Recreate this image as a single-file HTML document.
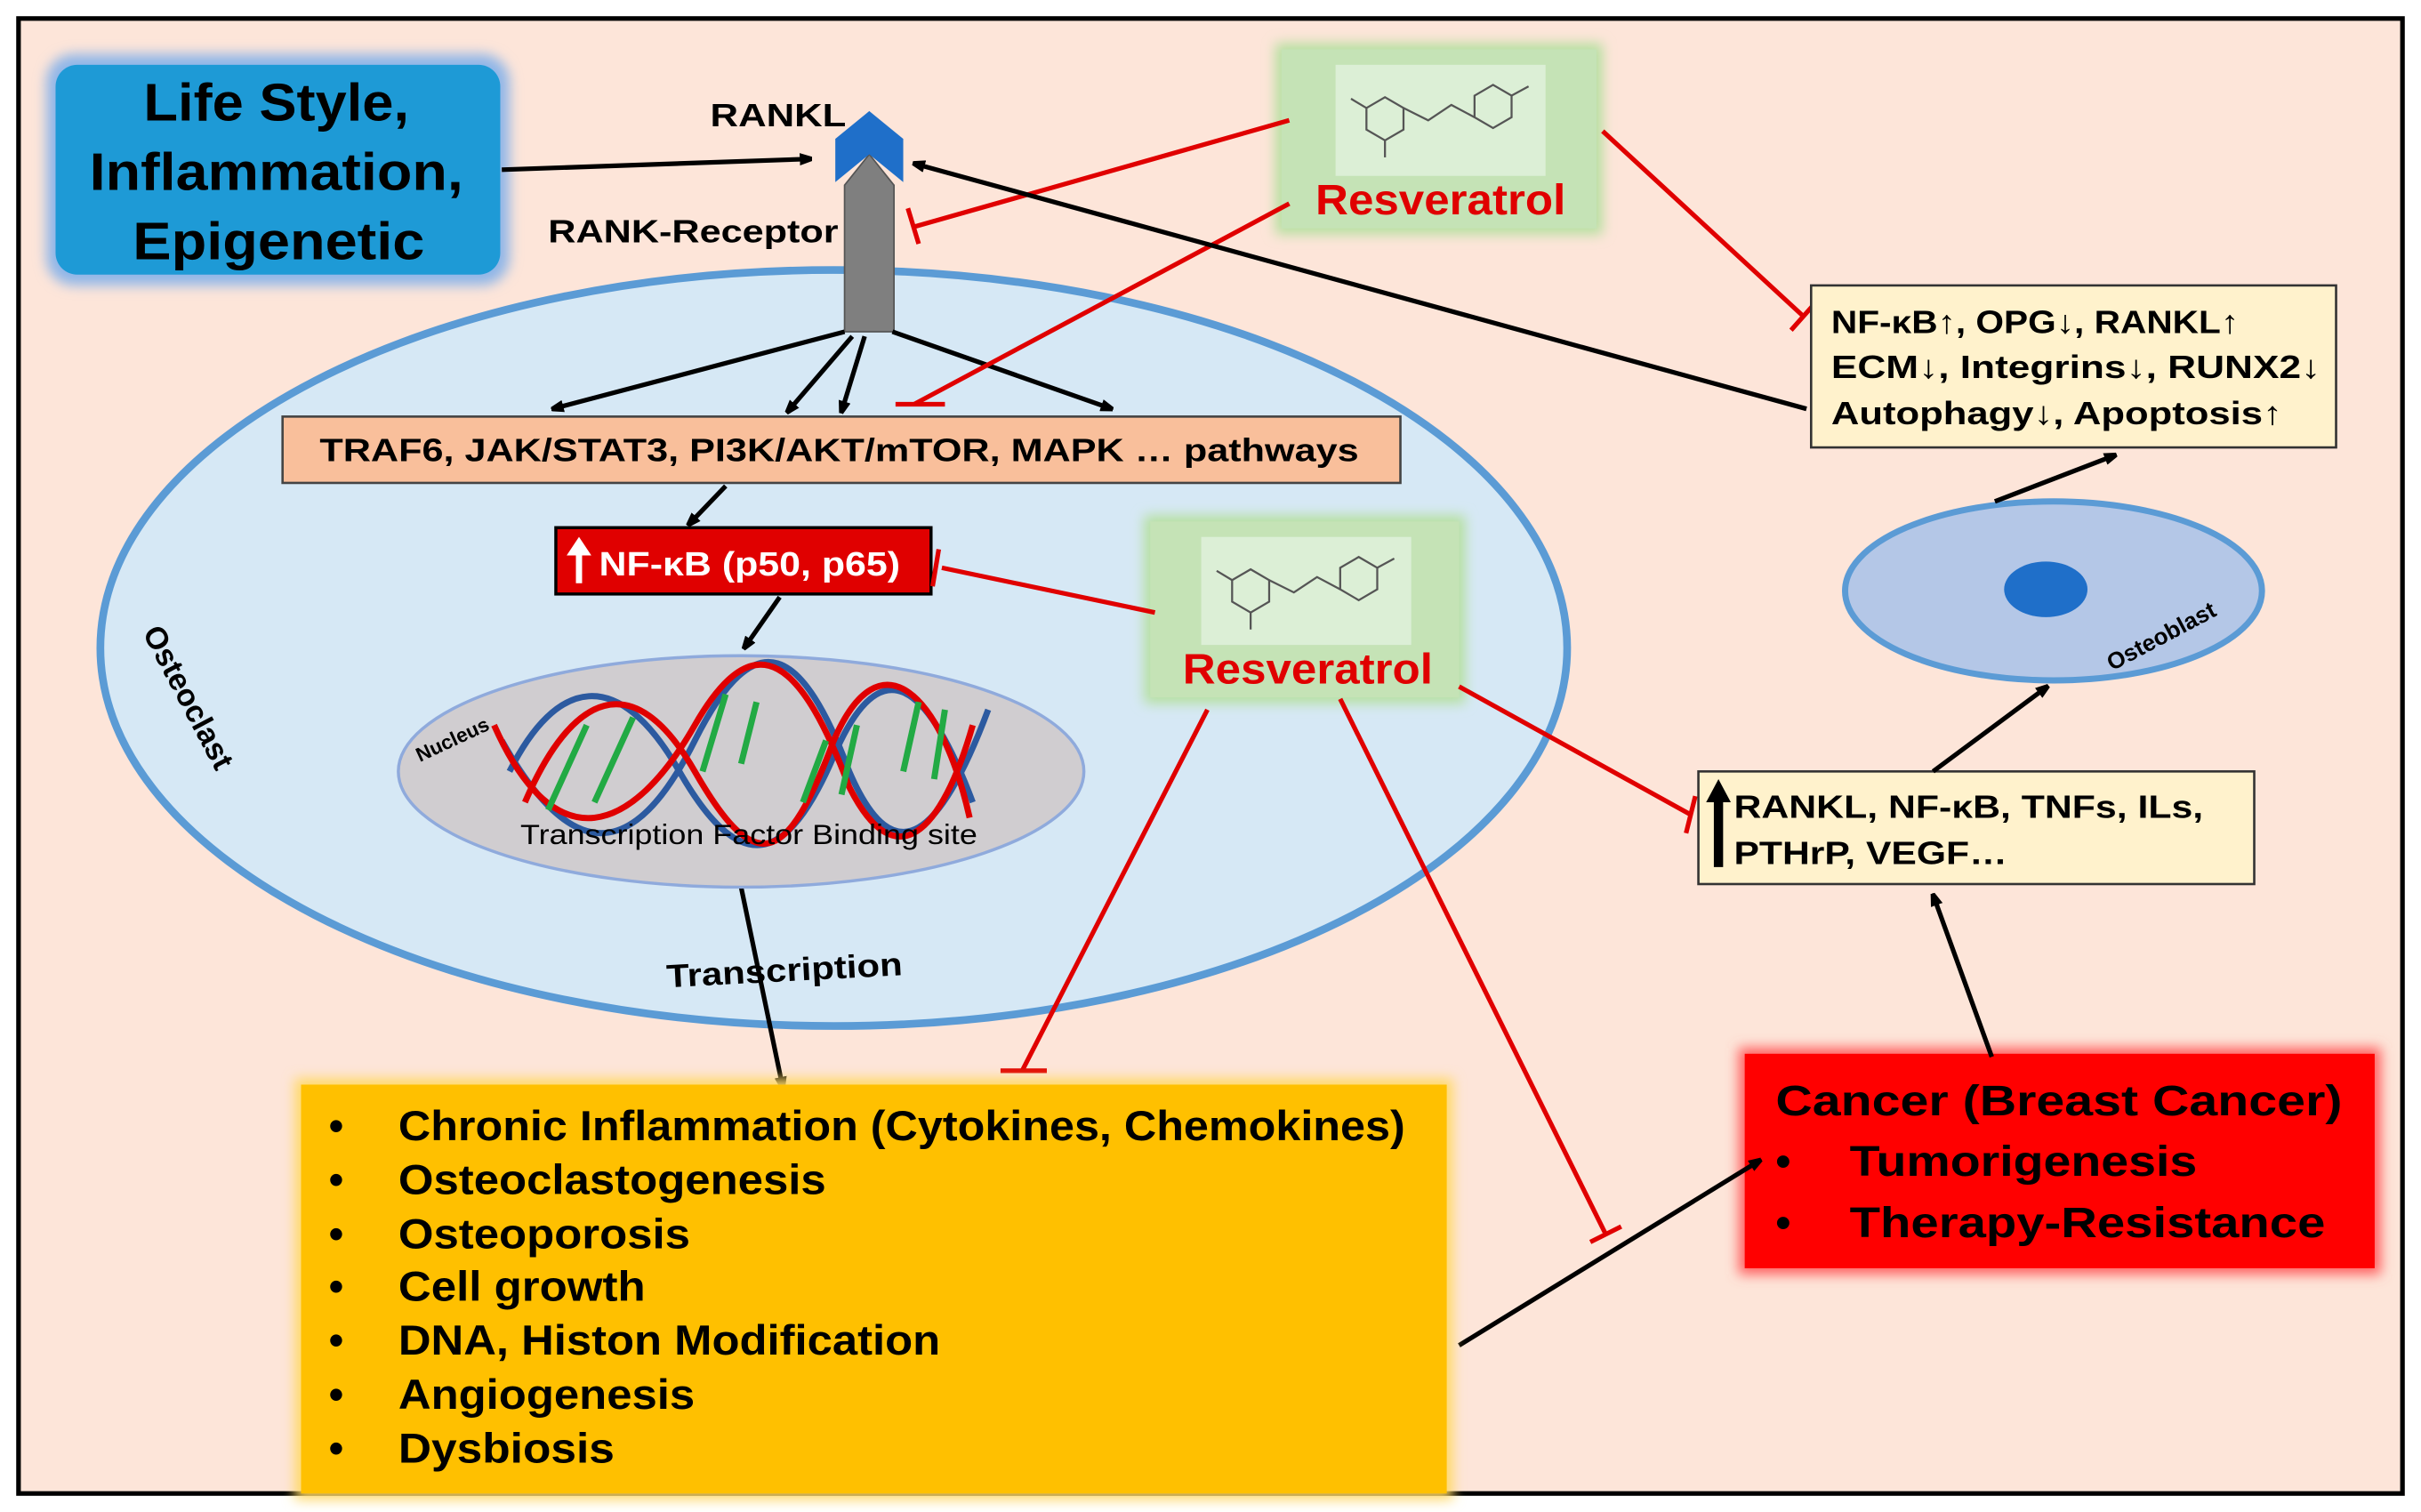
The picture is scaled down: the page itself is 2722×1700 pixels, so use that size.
<!DOCTYPE html>
<html><head><meta charset="utf-8"><style>
html,body{margin:0;padding:0;background:#fff;}
svg{display:block;}
text{font-family:"Liberation Sans",Arial,sans-serif;font-weight:bold;}
</style></head><body>
<svg width="2722" height="1700" viewBox="0 0 1568 980" preserveAspectRatio="none" xmlns="http://www.w3.org/2000/svg">
<defs>
<marker id="ab" markerWidth="8" markerHeight="8" refX="7" refY="4" orient="auto" markerUnits="userSpaceOnUse"><path d="M0,0 L12,4 L0,8 z" fill="#000"/></marker>
<filter id="glow" x="-20%" y="-20%" width="140%" height="140%"><feGaussianBlur stdDeviation="4"/></filter>
</defs>
<rect x="0" y="0" width="1568" height="980" fill="#fff"/>
<rect x="12" y="12" width="1544" height="956" fill="#fde5d9" stroke="#000" stroke-width="3"/>

<!-- Life style -->
<rect x="30" y="35" width="300" height="150" rx="18" fill="#8fb6e8" filter="url(#glow)"/>
<rect x="36" y="42" width="288" height="136" rx="14" fill="#1e9ad6"/>
<text x="93" y="78" font-size="34" textLength="172" lengthAdjust="spacingAndGlyphs">Life Style,</text>
<text x="58" y="123" font-size="34" textLength="242" lengthAdjust="spacingAndGlyphs">Inflammation,</text>
<text x="86" y="168" font-size="34" textLength="189" lengthAdjust="spacingAndGlyphs">Epigenetic</text>

<!-- Osteoclast ellipse -->
<ellipse cx="540" cy="420" rx="475" ry="245" fill="#d6e8f5" stroke="#5b9bd5" stroke-width="5"/>
<text x="0" y="0" font-size="20" transform="translate(92,410) rotate(62)">Osteoclast</text>

<!-- RANKL & receptor -->
<text x="460" y="82" font-size="21" textLength="88" lengthAdjust="spacingAndGlyphs">RANKL</text>
<line x1="325" y1="110" x2="525" y2="103" stroke="#000" stroke-width="3" marker-end="url(#ab)"/>
<text x="355" y="157" font-size="21" textLength="188" lengthAdjust="spacingAndGlyphs">RANK-Receptor</text>
<path d="M547,215 L547,120 L563,100 L579,120 L579,215 Z" fill="#7f7f7f" stroke="#555" stroke-width="1"/>
<path d="M541,118 L541,90 L563,72 L585,90 L585,118 L563,100 Z" fill="#1f6fc9"/>

<!-- arrows from receptor -->
<g stroke="#000" stroke-width="3" marker-end="url(#ab)">
<line x1="547" y1="215" x2="358" y2="265"/>
<line x1="552" y1="218" x2="510" y2="267"/>
<line x1="560" y1="218" x2="545" y2="267"/>
<line x1="578" y1="215" x2="720" y2="265"/>
<line x1="470" y1="315" x2="446" y2="340"/>
<line x1="505" y1="387" x2="482" y2="420"/>
<line x1="480" y1="575" x2="507" y2="705"/>
</g>

<!-- pathways -->
<rect x="183" y="270" width="724" height="43" fill="#f9bf9b" stroke="#444" stroke-width="1.5"/>
<text x="207" y="299" font-size="21" textLength="673" lengthAdjust="spacingAndGlyphs">TRAF6, JAK/STAT3, PI3K/AKT/mTOR, MAPK … pathways</text>

<!-- NF-kB -->
<rect x="360" y="342" width="243" height="43" fill="#e00000" stroke="#000" stroke-width="2"/>
<path d="M373,378 L373,360 L367,360 L375,348 L383,360 L377,360 L377,378 Z" fill="#fff"/>
<text x="388" y="373" font-size="22" fill="#fff" textLength="195" lengthAdjust="spacingAndGlyphs">NF-κB (p50, p65)</text>

<!-- Nucleus -->
<ellipse cx="480" cy="500" rx="222" ry="75" fill="#d0cdd0" stroke="#8faadc" stroke-width="2"/>
<text x="0" y="0" font-size="13" transform="translate(272,494) rotate(-25)">Nucleus</text>
<g fill="none" stroke-width="4">
<path d="M325,480 C370,560 410,560 450,480 C490,400 520,420 550,500 C580,570 610,540 640,460" stroke="#2c5aa0"/>
<path d="M330,500 C360,440 400,430 440,500 C480,570 510,560 540,490 C570,420 600,440 630,520" stroke="#2c5aa0"/>
<path d="M320,470 C360,560 410,540 450,470 C490,400 520,430 550,510 C580,570 610,540 630,470" stroke="#e00000"/>
<path d="M340,520 C370,450 410,430 450,500 C490,570 510,560 540,480 C570,410 610,450 628,530" stroke="#e00000"/>
</g>
<g stroke="#22aa44" stroke-width="4">
<line x1="355" y1="525" x2="380" y2="470"/><line x1="385" y1="520" x2="410" y2="465"/>
<line x1="455" y1="500" x2="470" y2="450"/><line x1="480" y1="495" x2="490" y2="455"/>
<line x1="520" y1="520" x2="535" y2="480"/><line x1="545" y1="515" x2="555" y2="470"/>
<line x1="585" y1="500" x2="595" y2="455"/><line x1="605" y1="505" x2="612" y2="460"/>
</g>
<text x="337" y="547" font-size="18" style="font-weight:normal" textLength="296" lengthAdjust="spacingAndGlyphs">Transcription Factor Binding site</text>
<text x="0" y="0" font-size="21" transform="translate(432,640) rotate(-3)" textLength="153" lengthAdjust="spacingAndGlyphs">Transcription</text>

<!-- Resveratrol 1 -->
<rect x="826" y="28" width="212" height="124" fill="#b6e0a0" filter="url(#glow)"/>
<rect x="830" y="32" width="204" height="116" fill="#c5e3b6"/>
<rect x="865" y="42" width="136" height="72" fill="#dcefd6"/>
<g stroke="#555" stroke-width="1.3" fill="none"><polygon points="885,70 897,63 909,70 909,84 897,91 885,84"/><polyline points="909,70 925,78 940,68 955,76"/><polygon points="955,62 967,55 979,62 979,76 967,83 955,76"/><line x1="979" y1="62" x2="990" y2="56"/><line x1="897" y1="91" x2="897" y2="102"/><line x1="885" y1="70" x2="875" y2="64"/></g>
<text x="852" y="139" font-size="28" fill="#e00000" textLength="162" lengthAdjust="spacingAndGlyphs">Resveratrol</text>

<!-- Resveratrol 2 -->
<rect x="741" y="334" width="208" height="122" fill="#b6e0a0" filter="url(#glow)"/>
<rect x="745" y="338" width="200" height="114" fill="#c5e3b6"/>
<rect x="778" y="348" width="136" height="70" fill="#dcefd6"/>
<g stroke="#555" stroke-width="1.3" fill="none"><polygon points="798,376 810,369 822,376 822,390 810,397 798,390"/><polyline points="822,376 838,384 853,374 868,382"/><polygon points="868,368 880,361 892,368 892,382 880,389 868,382"/><line x1="892" y1="368" x2="903" y2="362"/><line x1="810" y1="397" x2="810" y2="408"/><line x1="798" y1="376" x2="788" y2="370"/></g>
<text x="766" y="443" font-size="28" fill="#e00000" textLength="162" lengthAdjust="spacingAndGlyphs">Resveratrol</text>

<!-- red inhibition lines -->
<g stroke="#e00000" stroke-width="3" fill="none">
<line x1="835" y1="78" x2="592" y2="147"/><line x1="588" y1="135" x2="595" y2="158"/>
<line x1="835" y1="132" x2="592" y2="262"/><line x1="580" y1="262" x2="612" y2="262"/>
<line x1="1038" y1="85" x2="1168" y2="205"/><line x1="1160" y1="214" x2="1176" y2="196"/>
<line x1="748" y1="397" x2="610" y2="368"/><line x1="608" y1="356" x2="604" y2="380"/>
<line x1="782" y1="460" x2="662" y2="694"/><line x1="648" y1="694" x2="678" y2="694"/>
<line x1="868" y1="453" x2="1040" y2="800"/><line x1="1030" y1="805" x2="1050" y2="795"/>
<line x1="945" y1="445" x2="1095" y2="528"/><line x1="1098" y1="516" x2="1092" y2="540"/>
</g>

<!-- right box 1 -->
<rect x="1173" y="185" width="340" height="105" fill="#fff2cc" stroke="#333" stroke-width="1.5"/>
<text x="1186" y="216" font-size="21" textLength="264" lengthAdjust="spacingAndGlyphs">NF-κB↑, OPG↓, RANKL↑</text>
<text x="1186" y="245" font-size="21" textLength="317" lengthAdjust="spacingAndGlyphs">ECM↓, Integrins↓, RUNX2↓</text>
<text x="1186" y="275" font-size="21" textLength="292" lengthAdjust="spacingAndGlyphs">Autophagy↓, Apoptosis↑</text>
<line x1="1170" y1="265" x2="592" y2="106" stroke="#000" stroke-width="3" marker-end="url(#ab)"/>

<!-- osteoblast -->
<ellipse cx="1330" cy="383" rx="135" ry="58" fill="#b4c7e7" stroke="#5b9bd5" stroke-width="4"/>
<ellipse cx="1325" cy="382" rx="27" ry="18" fill="#1f6fc9"/>
<text x="0" y="0" font-size="15" transform="translate(1368,435) rotate(-28)">Osteoblast</text>

<!-- right box 2 -->
<rect x="1100" y="500" width="360" height="73" fill="#fff2cc" stroke="#333" stroke-width="1.5"/>
<path d="M1110,562 L1110,520 L1105,520 L1113,505 L1121,520 L1116,520 L1116,562 Z" fill="#000"/>
<text x="1123" y="530" font-size="21" textLength="304" lengthAdjust="spacingAndGlyphs">RANKL, NF-κB, TNFs, ILs,</text>
<text x="1123" y="560" font-size="21" textLength="177" lengthAdjust="spacingAndGlyphs">PTHrP, VEGF…</text>

<!-- cancer -->
<rect x="1126" y="679" width="416" height="147" fill="#ff6060" filter="url(#glow)"/>
<rect x="1130" y="683" width="408" height="139" fill="#ff0000"/>
<text x="1150" y="723" font-size="28" textLength="367" lengthAdjust="spacingAndGlyphs">Cancer (Breast Cancer)</text>
<text x="1150" y="762" font-size="28">•</text><text x="1198" y="762" font-size="28" textLength="225" lengthAdjust="spacingAndGlyphs">Tumorigenesis</text>
<text x="1150" y="802" font-size="28">•</text><text x="1198" y="802" font-size="28" textLength="308" lengthAdjust="spacingAndGlyphs">Therapy-Resistance</text>

<g stroke="#000" stroke-width="3" marker-end="url(#ab)">
<line x1="1292" y1="325" x2="1370" y2="295"/>
<line x1="1252" y1="500" x2="1326" y2="445"/>
<line x1="1290" y1="685" x2="1252" y2="580"/>
<line x1="945" y1="872" x2="1140" y2="752"/>
</g>

<!-- yellow box -->
<rect x="191" y="699" width="750" height="273" fill="#ffd966" filter="url(#glow)"/>
<rect x="195" y="703" width="742" height="265" fill="#ffc000"/>
<g font-size="27">
<text x="213" y="739">•</text><text x="258" y="739" textLength="652" lengthAdjust="spacingAndGlyphs">Chronic Inflammation (Cytokines, Chemokines)</text>
<text x="213" y="774">•</text><text x="258" y="774" textLength="277" lengthAdjust="spacingAndGlyphs">Osteoclastogenesis</text>
<text x="213" y="809">•</text><text x="258" y="809" textLength="189" lengthAdjust="spacingAndGlyphs">Osteoporosis</text>
<text x="213" y="843">•</text><text x="258" y="843" textLength="160" lengthAdjust="spacingAndGlyphs">Cell growth</text>
<text x="213" y="878">•</text><text x="258" y="878" textLength="351" lengthAdjust="spacingAndGlyphs">DNA, Histon Modification</text>
<text x="213" y="913">•</text><text x="258" y="913" textLength="192" lengthAdjust="spacingAndGlyphs">Angiogenesis</text>
<text x="213" y="948">•</text><text x="258" y="948" textLength="140" lengthAdjust="spacingAndGlyphs">Dysbiosis</text>
</g>
</svg>
</body></html>
